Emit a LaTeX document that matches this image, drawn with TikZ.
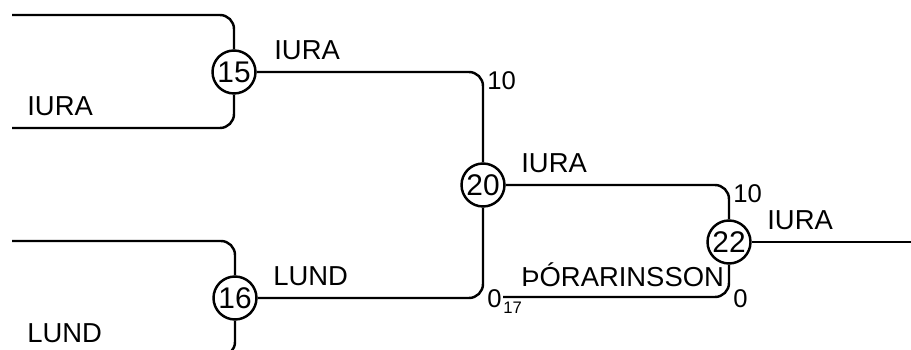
\documentclass[tikz,border=0pt]{standalone}
\usepackage{fontspec}
\setmainfont{Liberation Sans}
\begin{document}
\begin{tikzpicture}[x=0.02cm,y=-0.02cm,
    match/.style ={circle, draw, line width=1.4pt, inner sep=0pt, minimum size=0.86cm, font=\fontsize{17}{20}\selectfont},
    team/.style ={inner sep=0pt, anchor=base west, font=\fontsize{15.6}{18}\selectfont},
    score/.style ={inner sep=0pt, anchor=base west, font=\fontsize{14.6}{17}\selectfont},
    wire/.style ={line width=1.4pt, rounded corners=8pt}]
   \useasboundingbox (0,0) rectangle (911,350);
   \node[match] (m15) at (234,72)  {15};
   \node[match] (m16) at (235,298) {16};
   \node[match] (m20) at (483,185) {20};
   \node[match] (m22) at (729,242) {22};
   \coordinate (a1) at (12,15);
   \coordinate (a2) at (12,128);
   \coordinate (b1) at (12,241);
   \coordinate (b2) at (12,356);
   \coordinate (c17) at (503,297);
   \coordinate (out) at (915,242);
   \draw[wire] (a1) -| (m15);
   \draw[wire] (a2) -| (m15);
   \draw[wire] (b1) -| (m16);
   \draw[wire] (b2) -| (m16);
   \draw[wire] (m15) -| (m20);
   \draw[wire] (m16) -| (m20);
   \draw[wire] (m20) -| (m22);
   \draw[wire] (c17) -| (m22);
   \draw[wire] (m22) -- (out);
   \node[team] (t15a) at (27,116)  {IURA};
   \node[team] (t16a) at (27,343)  {LUND};
   \node[team] (t15) at (274,60)   {IURA};
   \node[team] (t16) at (273,286)  {LUND};
   \node[team] (t20) at (521,173)  {IURA};
   \node[team] (t17) at (521,287)  {ÞÓRARINSSON};
   \node[team] (t22) at (767,230)  {IURA};
   \node[score] (s15) at (487,90)  {10};
   \node[score] (s16) at (487,308) {0};
   \node[score, font=\fontsize{9.5}{11}\selectfont] (n17) at (503,314) {17};
   \node[score] (s20) at (733,203) {10};
   \node[score] (s17) at (733,308) {0};
\end{tikzpicture}
\end{document}
